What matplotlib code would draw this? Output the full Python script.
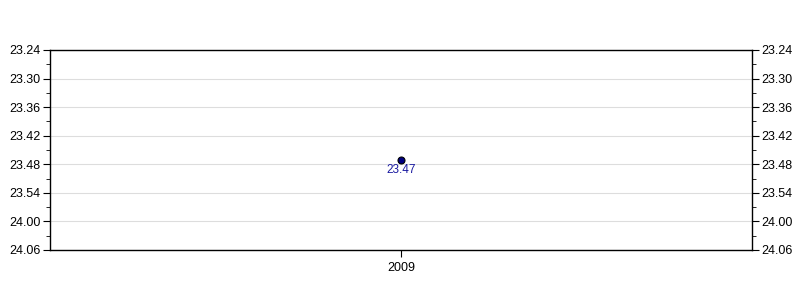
import matplotlib
matplotlib.use('Agg')
import matplotlib.pyplot as plt
from matplotlib.ticker import MultipleLocator, FuncFormatter

plt.rcParams['font.family'] = ['Liberation Sans', 'DejaVu Sans']

# 데이터 (분.초 형식)
years = ['2009']
times = ['23.47']
y_min, y_max = '23.24', '24.06'


def to_sec(s):
    m, sec = s.split('.')
    return int(m) * 60 + int(sec)


def fmt(v, pos=None):
    v = int(round(v))
    return '%d.%02d' % (v // 60, v % 60)


secs = [to_sec(t) for t in times]
lo, hi = to_sec(y_min), to_sec(y_max)

fig = plt.figure(figsize=(8, 3), dpi=100)
ax = fig.add_axes([0.0625, 0.1667, 0.8775, 0.6667])

x = list(range(len(years)))
ax.plot(x, secs, 'o', color='#000080', markeredgecolor='black',
        markersize=5, markeredgewidth=0.8, zorder=3)
for xi, s, t in zip(x, secs, times):
    ax.annotate(t, (xi, s), xytext=(0, -3.5), textcoords='offset points',
                ha='center', va='top', fontsize=8.5, color='#1a1aa0')

ax.set_xlim(-0.5, 0.5)
ax.set_xticks(x)
ax.set_xticklabels(years, fontsize=9)

ax.set_ylim(hi, lo)
ax.yaxis.set_major_locator(MultipleLocator(6))
ax.yaxis.set_minor_locator(MultipleLocator(3))
ax.yaxis.set_major_formatter(FuncFormatter(fmt))
ax.tick_params(axis='y', which='both', left=True, right=True,
               labelleft=True, labelright=True, labelsize=9, direction='out')
ax.tick_params(axis='y', which='major', length=5, pad=2)
ax.tick_params(axis='y', which='minor', length=3)
ax.tick_params(axis='x', length=5, labelsize=9)
ax.grid(axis='y', color='#dddddd', linewidth=0.8)
ax.set_axisbelow(True)
for sp in ax.spines.values():
    sp.set_linewidth(1)

plt.savefig('out.png')
